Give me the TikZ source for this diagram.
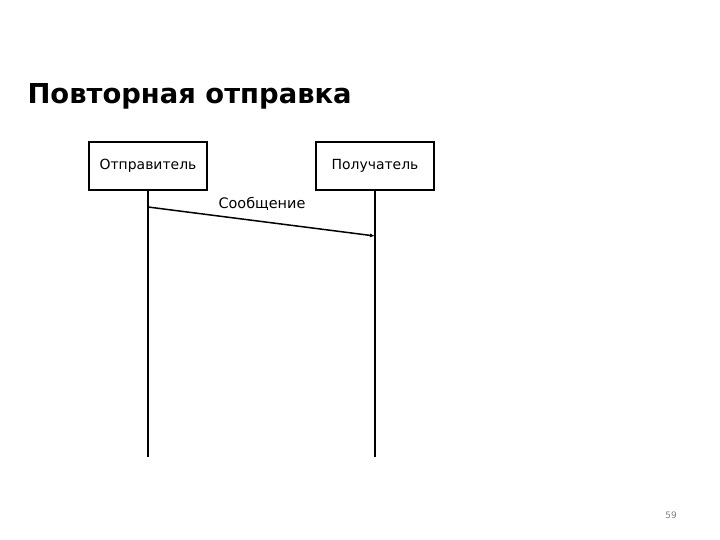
\documentclass[tikz,border=0pt]{standalone}
\usepackage{fontspec}
\setmainfont{DejaVu Sans}
\usetikzlibrary{arrows.meta,positioning}

\begin{document}
\begin{tikzpicture}[x=1bp,y=-1bp,
		actor/.style={draw,line width=1.6bp,minimum width=118bp,minimum height=48bp,inner sep=0,font=\fontsize{14}{16}\selectfont},
		life/.style={line width=2bp},
		msg/.style={line width=1.5bp,-{Latex[length=5bp,width=4bp]}}]

			\useasboundingbox (0, 0) rectangle (720, 540);

			\node[anchor=base west,font=\bfseries\fontsize{27.5}{32}\selectfont] (title) at (24, 104) {Повторная отправка};

			\node[actor] (snd) at (148, 166) {Отправитель};
			\node[actor] (rcv) at (375, 166) {Получатель};

			\coordinate (sndend) at (148, 457);
			\coordinate (rcvend) at (375, 457);
			\draw[life] (snd.south) -- (sndend);
			\draw[life] (rcv.south) -- (rcvend);

			\coordinate (m1) at (148, 207);
			\coordinate (m2) at (375, 236);
			\draw[msg] (m1) -- (m2);
			\node[font=\fontsize{14.5}{16}\selectfont] (msglbl) at (262, 204) {Сообщение};

			\node[text=gray,font=\fontsize{9}{10}\selectfont] (page) at (671, 515) {59};

		\end{tikzpicture}
\end{document}
